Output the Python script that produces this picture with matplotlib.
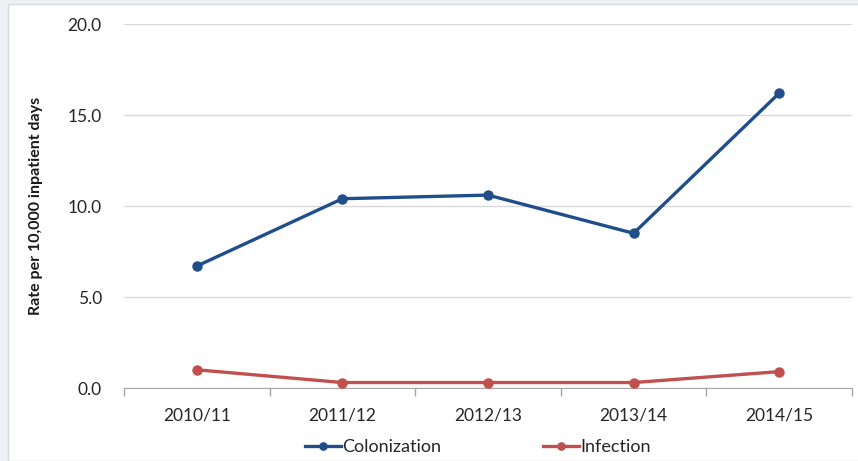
import matplotlib.pyplot as plt
from matplotlib.patches import Rectangle
import numpy as np

plt.rcParams['font.family'] = ['Lato', 'DejaVu Sans']

# données
years = ['2010/11', '2011/12', '2012/13', '2013/14', '2014/15']
colonization = [6.7, 10.4, 10.6, 8.5, 16.2]
infection = [1.0, 0.3, 0.3, 0.3, 0.9]

blue = '#1f4e8a'
red = '#c0504d'

fig = plt.figure(figsize=(8.58, 4.61), dpi=100, facecolor='#eef1f4')
# panneau blanc façon Excel
fig.patches.append(Rectangle((8 / 858, 0), 1, 1 - 4 / 461, transform=fig.transFigure,
                             facecolor='white', edgecolor='#d6dadf', lw=1, zorder=-10))
ax = fig.add_axes([124 / 858, 1 - 388 / 461, (852 - 124) / 858, (388 - 24) / 461])
ax.set_facecolor('white')

x = np.arange(len(years))
ax.plot(x, colonization, color=blue, lw=2.4, marker='o', ms=6.5, label='Colonization', zorder=3)
ax.plot(x, infection, color=red, lw=2.4, marker='o', ms=6.5, label='Infection', zorder=3)

ax.set_xlim(-0.5, len(years) - 0.5)
ax.set_ylim(0, 20)
ax.set_yticks([0, 5, 10, 15, 20])
ax.set_yticklabels([f'{v:.1f}' for v in [0, 5, 10, 15, 20]])
ax.set_xticks(x)
ax.set_xticklabels(years)
ax.set_xticks(np.arange(-0.5, len(years)), minor=True)

ax.tick_params(axis='y', length=0, pad=16, labelsize=12.5, labelcolor='#262626')
ax.tick_params(axis='x', which='major', length=0, pad=14, labelsize=12.5, labelcolor='#262626')
ax.tick_params(axis='x', which='minor', length=6, color='#a6a6a6', width=1)

ax.grid(axis='y', color='#d9d9d9', lw=1)
ax.set_axisbelow(True)
for s in ['top', 'right', 'left']:
    ax.spines[s].set_visible(False)
ax.spines['bottom'].set_color('#a6a6a6')

ax.set_ylabel('Rate per 10,000 inpatient days', fontsize=11.5, fontweight='bold',
              color='#1a1a1a', labelpad=18)

ax.legend(loc='upper center', bbox_to_anchor=(0.486, -0.095), ncol=2, frameon=False,
          fontsize=13, handlelength=2.0, handletextpad=0.1, columnspacing=5.6,
          markerscale=0.8, labelcolor='#262626')

fig.savefig('out.png', dpi=100, facecolor=fig.get_facecolor())
